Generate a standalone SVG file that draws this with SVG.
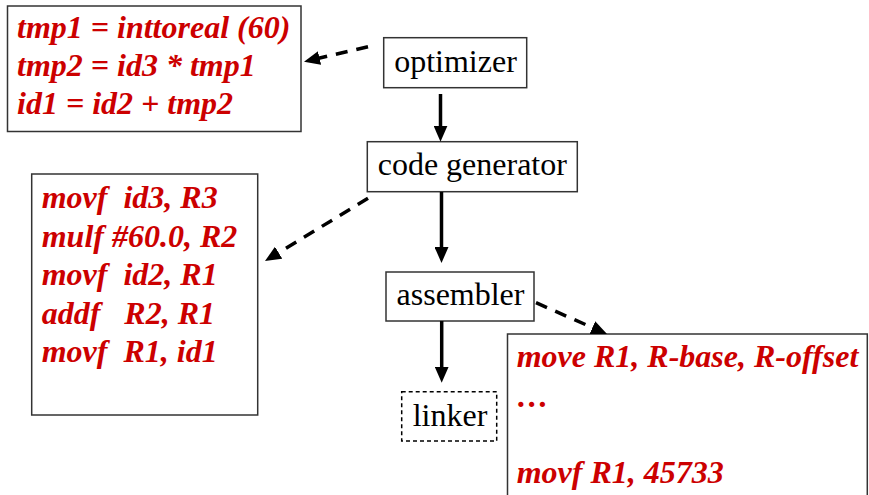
<svg xmlns="http://www.w3.org/2000/svg" width="869" height="495" viewBox="0 0 869 495">
<style>
.box{fill:#fff;stroke:#333;stroke-width:1.5}
.lbl{font-family:"Liberation Serif","Times New Roman",serif;font-size:32px;fill:#000;text-anchor:middle}
.code{font-family:"Liberation Serif","Times New Roman",serif;font-size:32px;font-weight:bold;font-style:italic;fill:#CC0000;white-space:pre}
.solid{stroke:#000;stroke-width:3.5;fill:none;marker-end:url(#ah)}
.dash{stroke:#000;stroke-width:3.5;fill:none;stroke-dasharray:12 9;marker-end:url(#ah)}
</style>
<defs>
<marker id="ah" markerUnits="userSpaceOnUse" viewBox="0 0 16 14" markerWidth="16" markerHeight="14" refX="1" refY="7" orient="auto">
<path d="M0,0 L16,7 L0,14 z" fill="#000"/>
</marker>
</defs>
<rect width="869" height="495" fill="#fff"/>
<g id="ir-box">
<rect class="box" x="7.5" y="6" width="293.5" height="125.5"/>
<text class="code" x="17" y="37.5">tmp1 = inttoreal (60)</text>
<text class="code" x="17" y="76">tmp2 = id3 * tmp1</text>
<text class="code" x="17" y="114">id1 = id2 + tmp2</text>
</g>
<g id="optimizer">
<rect class="box" x="383.7" y="37.7" width="143" height="50"/>
<text class="lbl" x="455.5" y="71.7">optimizer</text>
</g>
<g id="code-generator">
<rect class="box" x="367.3" y="141.7" width="210" height="50"/>
<text class="lbl" x="472.3" y="175">code generator</text>
</g>
<g id="asm-box">
<rect class="box" x="31.7" y="174" width="226" height="241"/>
<text class="code" x="41.7" y="207.7">movf  id3, R3</text>
<text class="code" x="41.7" y="246.7">mulf #60.0, R2</text>
<text class="code" x="41.7" y="285">movf  id2, R1</text>
<text class="code" x="41.7" y="324">addf   R2, R1</text>
<text class="code" x="41.7" y="361.7">movf  R1, id1</text>
</g>
<g id="assembler">
<rect class="box" x="386" y="272" width="148" height="49"/>
<text class="lbl" x="460.5" y="305">assembler</text>
</g>
<g id="linker">
<rect x="401.7" y="391.7" width="95" height="49.3" fill="#fff" stroke="#000" stroke-width="1.5" stroke-dasharray="4 3"/>
<text class="lbl" x="450" y="425.7">linker</text>
</g>
<g id="machine-box">
<path class="box" d="M507.5,496 V334 H867.3 V496"/>
<text class="code" x="516.7" y="367.3">move R1, R-base, R-offset</text>
<text class="code" x="516.7" y="406.7">…</text>
<text class="code" x="516.7" y="482.7">movf R1, 45733</text>
</g>
<g id="connectors">
<line class="dash" x1="368" y1="46.7" x2="318.6" y2="58.3"/>
<line class="solid" x1="440.5" y1="94" x2="440.5" y2="126.7"/>
<line class="dash" x1="368" y1="198.3" x2="277.8" y2="253.2"/>
<line class="solid" x1="441.5" y1="192" x2="441.5" y2="248"/>
<line class="dash" x1="536" y1="302.7" x2="593.3" y2="328"/>
<line class="solid" x1="441.7" y1="321" x2="441.7" y2="367.7"/>
</g>
</svg>
